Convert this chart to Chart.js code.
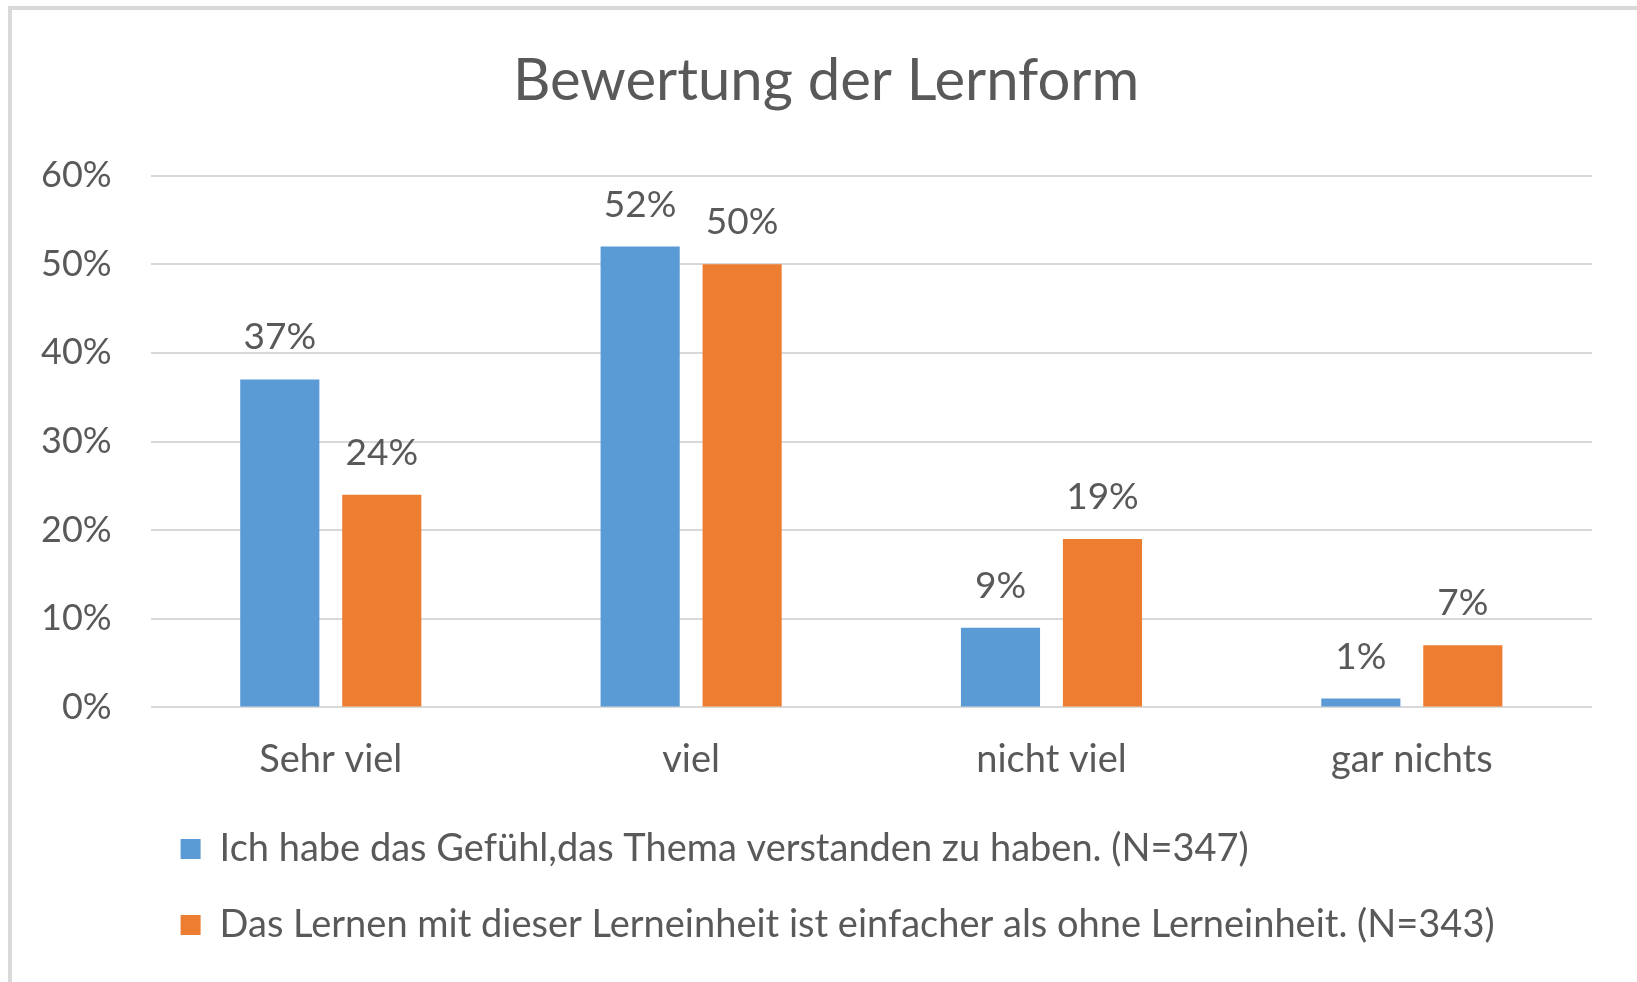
<!DOCTYPE html>
<html>
<head>
<meta charset="utf-8">
<script src="https://cdn.jsdelivr.net/npm/chart.js@4/dist/chart.umd.min.js"></script>
<style>
  body { margin: 0; background: #fff; }
  .frame {
    position: absolute; left: 8px; top: 6px; width: 1629px; height: 976px;
    border-top: 4px solid #d9d9d9; border-left: 4px solid #d9d9d9;
    box-sizing: border-box;
  }
  #chart { position: absolute; left: 0; top: 0; }
</style>
</head>
<body>
<div class="frame"></div>
<canvas id="chart" width="1637" height="982"></canvas>
<script>
const categories = ["Sehr viel", "viel", "nicht viel", "gar nichts"];
const understood = [37, 52, 9, 1];
const easier = [24, 50, 19, 7];
const seriesNames = [
  "Ich habe das Gefühl,das Thema verstanden zu haben. (N=347)",
  "Das Lernen mit dieser Lerneinheit ist einfacher als ohne Lerneinheit. (N=343)"
];

const textColor = "#595959";
const fontFamily = "Lato, 'Open Sans', sans-serif";

// value labels above each bar
const barLabels = {
  id: "barLabels",
  afterDatasetsDraw(chart) {
    const ctx = chart.ctx;
    ctx.save();
    ctx.font = "37px " + fontFamily;
    ctx.fillStyle = textColor;
    ctx.textAlign = "center";
    ctx.textBaseline = "alphabetic";
    chart.data.datasets.forEach((ds, i) => {
      chart.getDatasetMeta(i).data.forEach((bar, j) => {
        ctx.fillText(ds.data[j] + "%", bar.x, bar.y - 30);
      });
    });
    ctx.restore();
  }
};

// the original frame is wider than the visible crop, so the title sits a bit right of centre
const nudgeBoxes = {
  id: "nudgeBoxes",
  afterLayout(chart) {
    chart.titleBlock.left += 29;
    chart.titleBlock.right += 29;
    chart.legend.left -= 8;
    chart.legend.right -= 8;
  }
};

new Chart(document.getElementById("chart"), {
  type: "bar",
  data: {
    labels: categories,
    datasets: [
      { label: seriesNames[0], data: understood, backgroundColor: "#5B9BD5" },
      { label: seriesNames[1], data: easier, backgroundColor: "#ED7D31" }
    ]
  },
  options: {
    responsive: false,
    animation: false,
    categoryPercentage: 0.566,
    barPercentage: 0.776,
    layout: { padding: { left: 2, right: 45, top: 46, bottom: 28 } },
    plugins: {
      title: {
        display: true,
        text: "Bewertung der Lernform",
        color: textColor,
        font: { family: fontFamily, size: 58, weight: "normal" },
        padding: { top: 0, bottom: 60 }
      },
      legend: {
        position: "bottom",
        align: "start",
        fullSize: false,
        labels: {
          color: textColor,
          font: { family: fontFamily, size: 38 },
          boxWidth: 20,
          boxHeight: 20,
          padding: 38
        }
      },
      tooltip: { enabled: false }
    },
    scales: {
      x: {
        grid: { display: false, drawTicks: false },
        border: { display: false },
        ticks: { color: textColor, font: { family: fontFamily, size: 38 }, padding: 30 },
        afterFit: scale => { scale.height -= 21; }
      },
      y: {
        min: 0,
        max: 60,
        border: { display: false },
        grid: { color: "#d9d9d9", lineWidth: 2, drawTicks: false },
        ticks: {
          stepSize: 10,
          color: textColor,
          font: { family: fontFamily, size: 36 },
          padding: 39,
          callback: v => v + "%"
        }
      }
    }
  },
  plugins: [barLabels, nudgeBoxes]
});
</script>
</body>
</html>
